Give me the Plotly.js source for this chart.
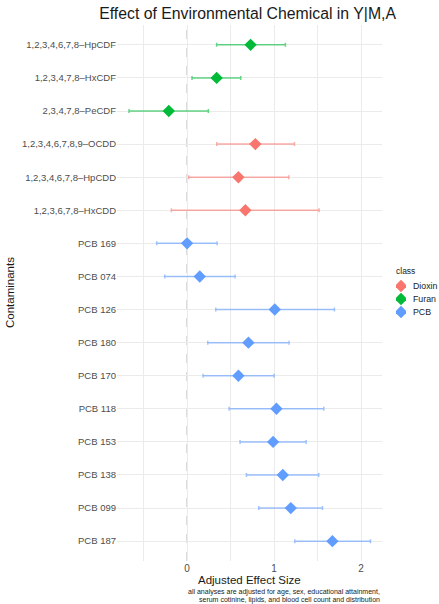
<!DOCTYPE html>
<html>
<head>
<meta charset="utf-8">
<script src="https://cdn.plot.ly/plotly-3.0.1.min.js"></script>
<style>html,body{margin:0;padding:0;background:#fff;}#chart{width:439px;height:604px;}</style>
</head>
<body>
<div id="chart"></div>
<script>
// Categories, top to bottom
const contaminants = [
  "1,2,3,4,6,7,8–HpCDF", "1,2,3,4,7,8–HxCDF", "2,3,4,7,8–PeCDF",
  "1,2,3,4,6,7,8,9–OCDD", "1,2,3,4,6,7,8–HpCDD", "1,2,3,6,7,8–HxCDD",
  "PCB 169", "PCB 074", "PCB 126", "PCB 180", "PCB 170",
  "PCB 118", "PCB 153", "PCB 138", "PCB 099", "PCB 187"
];
const classes = [
  "Furan", "Furan", "Furan",
  "Dioxin", "Dioxin", "Dioxin",
  "PCB", "PCB", "PCB", "PCB", "PCB", "PCB", "PCB", "PCB", "PCB", "PCB"
];
const estimate = [0.73, 0.34, -0.21, 0.785, 0.59, 0.67, 0.0, 0.146, 1.008, 0.705, 0.59, 1.027, 0.989, 1.10, 1.192, 1.67];
const lower    = [0.34, 0.057, -0.667, 0.341, 0.019, -0.18, -0.349, -0.257, 0.33, 0.238, 0.184, 0.483, 0.609, 0.682, 0.824, 1.238];
const upper    = [1.13, 0.617, 0.245, 1.234, 1.169, 1.517, 0.345, 0.552, 1.693, 1.172, 1.0, 1.571, 1.368, 1.513, 1.556, 2.107];

const classNames = ["Dioxin", "Furan", "PCB"];
const classColors = {Dioxin: "#F8766D", Furan: "#00BA38", PCB: "#619CFF"};
const classBarColors = {Dioxin: "rgba(248,118,109,0.6)", Furan: "rgba(0,186,56,0.6)", PCB: "rgba(97,156,255,0.6)"};

const font = "Liberation Sans, Arial, sans-serif";

const traces = classNames.map(cls => {
  const idx = classes.map((c, i) => c === cls ? i : -1).filter(i => i >= 0);
  return {
    type: "scatter",
    mode: "markers",
    name: cls,
    x: idx.map(i => estimate[i]),
    y: idx.map(i => contaminants[i]),
    error_x: {
      type: "data", symmetric: false,
      array: idx.map(i => upper[i] - estimate[i]),
      arrayminus: idx.map(i => estimate[i] - lower[i]),
      color: classBarColors[cls], thickness: 1.5, width: 2
    },
    marker: {symbol: "diamond", size: 9.5, color: classColors[cls]},
    showlegend: false
  };
});

// legend keys (ggplot-style), drawn on an auxiliary axis pair
traces.push({
  type: "scatter", mode: "markers", xaxis: "x2", yaxis: "y2",
  x: classNames.map(() => 0), y: classNames,
  marker: {symbol: "diamond", size: 9.5, color: classNames.map(c => classColors[c])},
  hoverinfo: "skip", showlegend: false
});

// main panel: pixels 117..382 horizontally inside a 322px wide plot area
const W = 322;
const px = p => (p - 117) / W;

const layout = {
  width: 439, height: 604,
  margin: {l: 117, r: 0, t: 25, b: 43, autoexpand: false},
  paper_bgcolor: "#fff", plot_bgcolor: "rgba(0,0,0,0)",
  font: {family: font, color: "#4d4d4d"},
  title: {text: "Effect of Environmental Chemical in Y|M,A", font: {size: 15.8, color: "#1a1a1a", family: font},
          xref: "container", x: 0.564, xanchor: "center", yref: "container", y: 0.978, yanchor: "middle"},
  xaxis: {
    domain: [0, px(382)],
    range: [-0.805, 2.24], tickvals: [0, 1, 2], ticktext: ["0", "1", "2"],
    showgrid: true, gridcolor: "#ebebeb", gridwidth: 1, zeroline: false,
    minor: {tickvals: [-0.5, 0.5, 1.5], showgrid: true, gridcolor: "#ebebeb", gridwidth: 1},
    ticks: "", tickfont: {size: 10, color: "#4d4d4d"}, showline: false
  },
  yaxis: {
    type: "category", categoryorder: "array", categoryarray: contaminants,
    range: [15.6, -0.6], showgrid: true, gridcolor: "#ebebeb", gridwidth: 1,
    zeroline: false, ticks: "", tickfont: {size: 9.5, color: "#4d4d4d"}, showline: false
  },
  xaxis2: {domain: [px(396), px(406)], range: [-1, 1], anchor: "y2",
           visible: false, fixedrange: true},
  yaxis2: {domain: [(561 - 318.5) / 536, (561 - 279.5) / 536], anchor: "x2",
           type: "category", categoryorder: "array", categoryarray: classNames,
           range: [2.5, -0.5], visible: false, fixedrange: true},
  showlegend: false,
  shapes: [{type: "line", xref: "x", yref: "paper", x0: 0, x1: 0, y0: 0, y1: 1,
            line: {color: "#cccccc", width: 1.5, dash: "dash"}, layer: "below"}],
  annotations: [
    {text: "Contaminants", xref: "paper", yref: "paper", x: px(10), y: 0.5, textangle: -90,
     showarrow: false, font: {size: 11.5, color: "#1a1a1a"}, xanchor: "center", yanchor: "middle"},
    {text: "Adjusted Effect Size", xref: "paper", yref: "paper", x: px(249.5), y: (561 - 580) / 536,
     showarrow: false, font: {size: 11.5, color: "#1a1a1a"}, xanchor: "center", yanchor: "middle"},
    {text: "all analyses are adjusted for age, sex, educational attainment,",
     xref: "paper", yref: "paper", x: px(382), y: (561 - 592) / 536, align: "right",
     showarrow: false, font: {size: 7, color: "#1a1a1a"}, xanchor: "right", yanchor: "middle"},
    {text: "serum cotinine, lipids, and blood cell count and distribution",
     xref: "paper", yref: "paper", x: px(382), y: (561 - 599.5) / 536, align: "right",
     showarrow: false, font: {size: 7, color: "#1a1a1a"}, xanchor: "right", yanchor: "middle"},
    {text: "class", xref: "paper", yref: "paper", x: px(394), y: (561 - 271) / 536,
     showarrow: false, font: {size: 8.5, color: "#1a1a1a"}, xanchor: "left", yanchor: "middle"}
  ].concat(classNames.map(c => ({
    text: c, xref: "paper", yref: "y2", x: px(411), y: c,
    showarrow: false, font: {size: 8.8, color: "#1a1a1a"}, xanchor: "left", yanchor: "middle"
  })))
};

Plotly.newPlot("chart", traces, layout, {displayModeBar: false, responsive: false});
</script>
</body>
</html>
